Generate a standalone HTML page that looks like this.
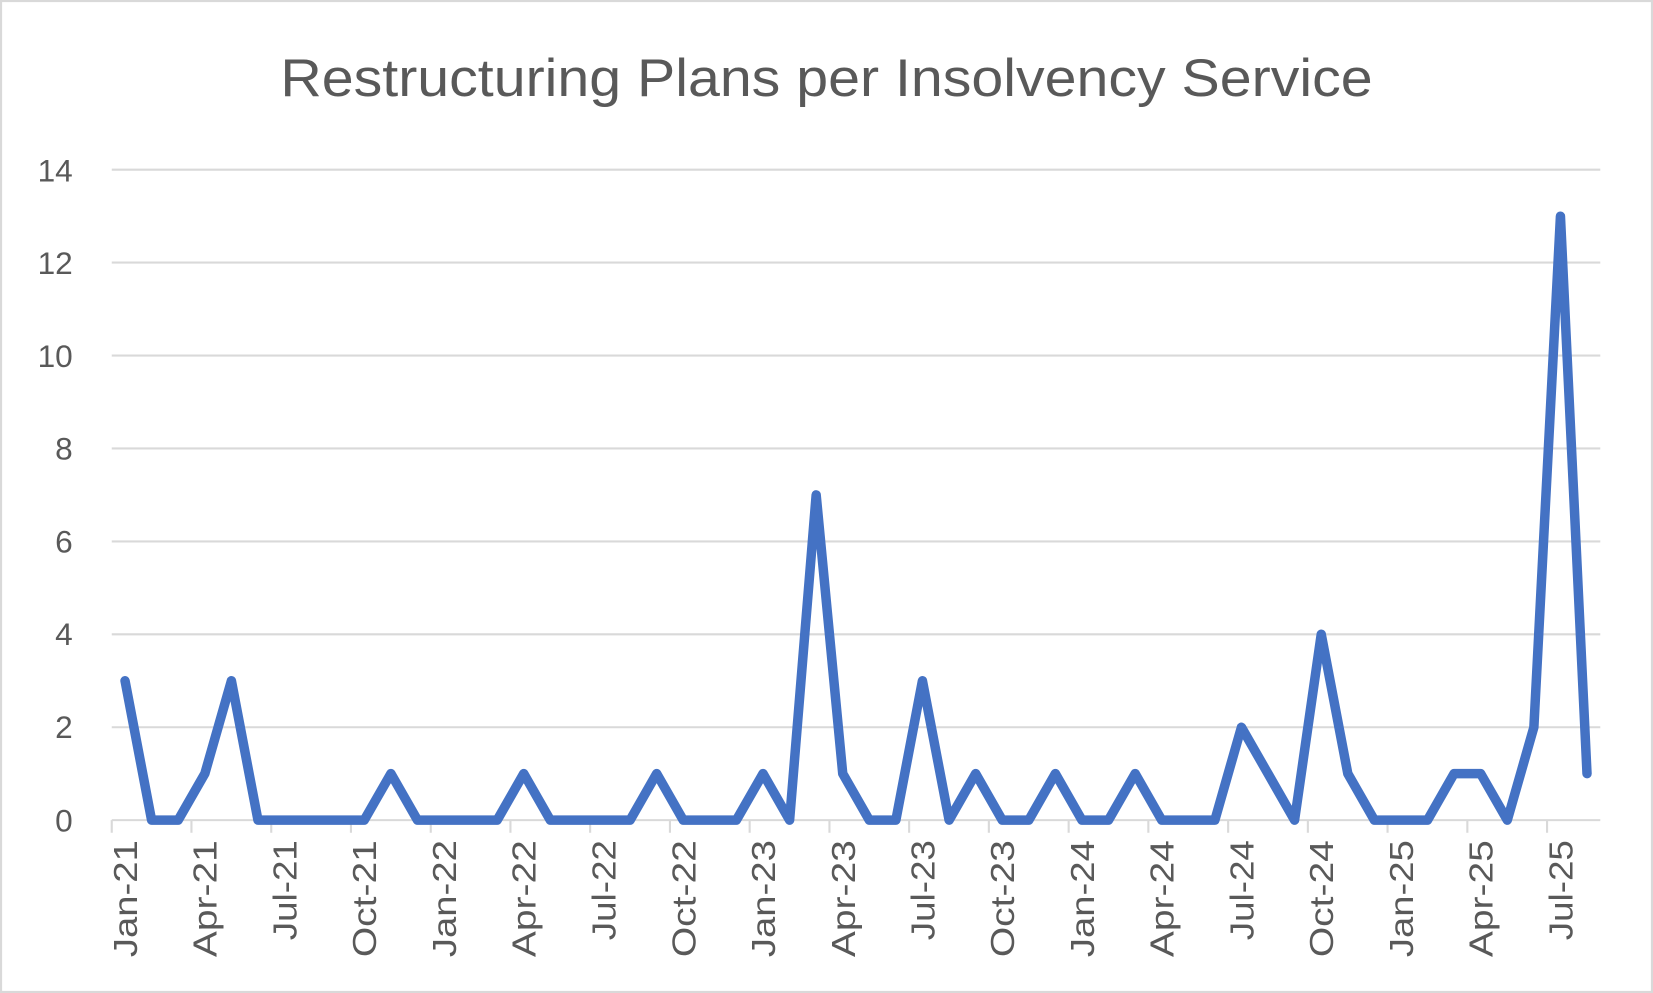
<!DOCTYPE html>
<html><head><style>html,body{margin:0;padding:0;background:#fff}svg{display:block}</style></head>
<body>
<svg width="1653" height="993" viewBox="0 0 1568 942" preserveAspectRatio="none" xmlns="http://www.w3.org/2000/svg" font-family="'Liberation Sans', sans-serif">
<rect x="1" y="1" width="1566" height="940" fill="#fff" stroke="#d9d9d9" stroke-width="2"/>
<text x="784" y="91" text-anchor="middle" font-size="50" fill="#595959" textLength="1036" lengthAdjust="spacingAndGlyphs">Restructuring Plans per Insolvency Service</text>
<g stroke="#d9d9d9" stroke-width="2">
<line x1="106" x2="1518" y1="161" y2="161"/><line x1="106" x2="1518" y1="249.1" y2="249.1"/>
<line x1="106" x2="1518" y1="337.3" y2="337.3"/><line x1="106" x2="1518" y1="425.4" y2="425.4"/>
<line x1="106" x2="1518" y1="513.6" y2="513.6"/><line x1="106" x2="1518" y1="601.7" y2="601.7"/>
<line x1="106" x2="1518" y1="689.9" y2="689.9"/><line x1="106" x2="1518" y1="778" y2="778"/>
<line x1="106" x2="106" y1="778" y2="790"/><line x1="181.6" x2="181.6" y1="778" y2="790"/>
<line x1="257.3" x2="257.3" y1="778" y2="790"/><line x1="332.9" x2="332.9" y1="778" y2="790"/>
<line x1="408.6" x2="408.6" y1="778" y2="790"/><line x1="484.2" x2="484.2" y1="778" y2="790"/>
<line x1="559.8" x2="559.8" y1="778" y2="790"/><line x1="635.5" x2="635.5" y1="778" y2="790"/>
<line x1="711.1" x2="711.1" y1="778" y2="790"/><line x1="786.8" x2="786.8" y1="778" y2="790"/>
<line x1="862.4" x2="862.4" y1="778" y2="790"/><line x1="938" x2="938" y1="778" y2="790"/>
<line x1="1013.7" x2="1013.7" y1="778" y2="790"/><line x1="1089.3" x2="1089.3" y1="778" y2="790"/>
<line x1="1165" x2="1165" y1="778" y2="790"/><line x1="1240.6" x2="1240.6" y1="778" y2="790"/>
<line x1="1316.2" x2="1316.2" y1="778" y2="790"/><line x1="1391.9" x2="1391.9" y1="778" y2="790"/>
<line x1="1467.5" x2="1467.5" y1="778" y2="790"/>
</g>
<g font-size="30" fill="#595959" text-anchor="end">
<text x="69" y="172">14</text><text x="69" y="260">12</text><text x="69" y="348">10</text><text x="69" y="436">8</text><text x="69" y="524">6</text><text x="69" y="612">4</text><text x="69" y="700">2</text><text x="69" y="789">0</text>
</g>
<g font-size="32" fill="#595959" text-anchor="end" lengthAdjust="spacingAndGlyphs">
<text transform="translate(130,797) rotate(-90)" textLength="111" lengthAdjust="spacingAndGlyphs">Jan-21</text>
<text transform="translate(205.6,797) rotate(-90)" textLength="111" lengthAdjust="spacingAndGlyphs">Apr-21</text>
<text transform="translate(281.3,797) rotate(-90)" textLength="95" lengthAdjust="spacingAndGlyphs">Jul-21</text>
<text transform="translate(356.9,797) rotate(-90)" textLength="111" lengthAdjust="spacingAndGlyphs">Oct-21</text>
<text transform="translate(432.6,797) rotate(-90)" textLength="111" lengthAdjust="spacingAndGlyphs">Jan-22</text>
<text transform="translate(508.2,797) rotate(-90)" textLength="111" lengthAdjust="spacingAndGlyphs">Apr-22</text>
<text transform="translate(583.8,797) rotate(-90)" textLength="95" lengthAdjust="spacingAndGlyphs">Jul-22</text>
<text transform="translate(659.5,797) rotate(-90)" textLength="111" lengthAdjust="spacingAndGlyphs">Oct-22</text>
<text transform="translate(735.1,797) rotate(-90)" textLength="111" lengthAdjust="spacingAndGlyphs">Jan-23</text>
<text transform="translate(810.8,797) rotate(-90)" textLength="111" lengthAdjust="spacingAndGlyphs">Apr-23</text>
<text transform="translate(886.4,797) rotate(-90)" textLength="95" lengthAdjust="spacingAndGlyphs">Jul-23</text>
<text transform="translate(962,797) rotate(-90)" textLength="111" lengthAdjust="spacingAndGlyphs">Oct-23</text>
<text transform="translate(1037.7,797) rotate(-90)" textLength="111" lengthAdjust="spacingAndGlyphs">Jan-24</text>
<text transform="translate(1113.3,797) rotate(-90)" textLength="111" lengthAdjust="spacingAndGlyphs">Apr-24</text>
<text transform="translate(1189,797) rotate(-90)" textLength="95" lengthAdjust="spacingAndGlyphs">Jul-24</text>
<text transform="translate(1264.6,797) rotate(-90)" textLength="111" lengthAdjust="spacingAndGlyphs">Oct-24</text>
<text transform="translate(1340.2,797) rotate(-90)" textLength="111" lengthAdjust="spacingAndGlyphs">Jan-25</text>
<text transform="translate(1415.9,797) rotate(-90)" textLength="111" lengthAdjust="spacingAndGlyphs">Apr-25</text>
<text transform="translate(1491.5,797) rotate(-90)" textLength="95" lengthAdjust="spacingAndGlyphs">Jul-25</text>
</g>
<polyline fill="none" stroke="#4472C4" stroke-width="9" stroke-linejoin="round" stroke-linecap="round" points="118.6,645.8 143.8,778 169,778 194.3,733.9 219.5,645.8 244.7,778 269.9,778 295.1,778 320.3,778 345.5,778 370.8,733.9 396,778 421.2,778 446.4,778 471.6,778 496.8,733.9 522,778 547.3,778 572.5,778 597.7,778 622.9,733.9 648.1,778 673.3,778 698.5,778 723.8,733.9 749,778 774.2,469.5 799.4,733.9 824.6,778 849.8,778 875,645.8 900.3,778 925.5,733.9 950.7,778 975.9,778 1001.1,733.9 1026.3,778 1051.5,778 1076.8,733.9 1102,778 1127.2,778 1152.4,778 1177.6,689.9 1202.8,733.9 1228,778 1253.3,601.7 1278.5,733.9 1303.7,778 1328.9,778 1354.1,778 1379.3,733.9 1404.5,733.9 1429.8,778 1455,689.9 1480.2,205.1 1505.4,733.9"/>
</svg>
</body></html>
